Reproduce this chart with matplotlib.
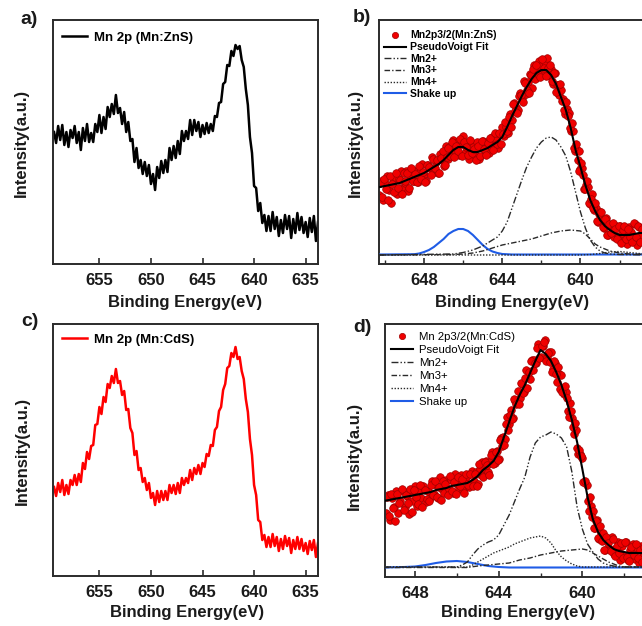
import numpy as np
import matplotlib
matplotlib.use("Agg")
import matplotlib.pyplot as plt
from matplotlib.ticker import MultipleLocator
from matplotlib.lines import Line2D

plt.rcParams['font.family'] = ['Liberation Sans', 'DejaVu Sans']

# ---------------- Panel a: Mn 2p survey (Mn:ZnS) ----------------
a_energy = np.linspace(659.4, 633.8, 129)
a_intensity = [132,121,138,124,139,119,132,117,134,126,138,121,132,114,136,123,140,122,131,122,
               140,132,149,131,147,135,157,147,160,150,169,151,156,140,152,132,142,123,125,102,
               116,96,104,90,102,88,99,80,90,74,97,86,103,91,104,92,116,104,118,106,
               123,110,133,123,133,125,144,129,144,133,142,127,139,130,141,131,140,133,148,147,
               161,162,180,182,199,198,213,208,219,215,218,204,197,175,159,127,111,78,76,53,
               61,41,49,33,48,33,52,35,47,28,44,31,49,35,48,26,45,31,51,34,
               47,31,42,27,46,32,48,23,42]

# ---------------- Panel c: Mn 2p survey (Mn:CdS) ----------------
c_energy = np.linspace(659.4, 633.8, 129)
c_intensity = [89,80,93,84,96,81,91,82,96,91,101,91,102,94,113,107,124,117,130,131,
               151,152,169,162,179,174,192,188,200,193,207,193,195,181,185,166,167,148,143,121,
               125,106,108,94,98,86,93,78,83,71,85,74,85,76,85,76,91,83,91,82,
               93,83,98,91,98,93,106,96,108,102,111,102,113,109,122,120,131,130,146,149,
               165,169,186,192,208,210,223,219,229,217,219,205,197,177,164,137,121,91,81,56,
               54,36,41,29,39,29,42,30,39,25,37,27,40,30,38,23,36,27,39,27,
               37,25,33,22,35,26,36,19,33]

# ---------------- Panel b: Mn 2p3/2 fit (Mn:ZnS) ----------------
b_energy = np.linspace(650.3, 636.9, 135)
b_intensity = [69,83,64,81,88,74,61,82,87,70,85,93,76,81,93,73,86,94,83,93,
               82,92,100,89,83,99,96,107,92,102,91,110,104,98,118,105,117,111,124,111,
               122,109,120,128,111,117,105,121,117,109,122,105,117,123,113,122,111,119,127,116,
               124,116,130,137,128,137,131,150,144,161,157,154,171,166,183,170,182,190,176,199,
               192,187,203,198,191,202,206,189,195,180,191,179,169,174,165,150,155,151,133,133,
               113,114,113,95,96,75,79,77,60,70,54,56,42,52,44,36,46,29,38,39,
               27,38,27,38,31,23,34,20,37,32,25,40,19,37,29]
b_energy_2 = np.linspace(650.25, 636.85, 135)
b_intensity_2 = [81,67,85,75,64,88,80,72,91,76,84,70,91,83,91,76,96,83,90,82,
                 98,85,92,82,99,97,89,105,96,104,91,106,113,99,107,116,108,122,107,118,
                 113,125,108,122,117,109,124,111,115,104,118,108,123,115,109,121,126,116,114,131,
                 120,131,120,130,142,133,147,137,160,153,151,168,169,162,181,174,171,189,195,185,
                 199,190,187,205,196,188,196,199,183,191,172,179,180,163,154,162,148,136,141,116,
                 120,104,93,101,89,75,83,61,65,56,61,43,50,52,37,45,29,40,31,41,
                 35,25,38,21,34,38,25,35,27,22,41,27,38,22,35]
b_fit_energy = np.linspace(650.25, 636.75, 55)
b_fit = [77,78,79,80,81,83,85,87,89,91,94,97,100,104,109,114,117,117,114,112,
         112,114,116,119,122,127,137,148,158,168,177,185,191,194,194,189,180,167,154,136,
         114,97,79,64,53,44,38,34,31,29,29,29,30,31,31]
b_mn2_energy = [650.3,646.5,646.0,645.5,645.25,645.0,644.75,644.5,644.25,644.0,643.75,643.5,643.25,
                643.0,642.75,642.5,642.25,642.0,641.75,641.5,641.25,641.0,640.75,640.5,640.25,
                640.0,639.75,639.5,639.25,639.0,638.75,638.5,638.0,636.5]
b_mn2 = [9,10,11.5,14,16,18,21,24,27,33,42,56,70,84,97,107,116,122,126,127,124,117,108,92,72,
         52,36,24,17,13,11,10,9.5,9]
b_mn3_energy = [650.3,646.5,646.0,645.5,645.0,644.5,644.0,643.5,643.0,642.5,642.0,641.5,641.0,
                640.5,640.0,639.75,639.5,639.25,639.0,638.75,638.5,638.0,637.5,636.5]
b_mn3 = [9,9.5,10,11,13,16,19,21,23,25,28,31,33,34,33,30,25,20,17,15,13,11,10,9.5]
b_mn4_energy = [650.3,640.0,639.5,639.0,638.5,638.0,637.5,637.0,636.5]
b_mn4 = [9,9,9.5,10.5,12,12.5,11.5,10.5,10]
b_shake_energy = [650.3,648.5,648.25,648.0,647.75,647.5,647.25,647.0,646.75,646.5,646.25,646.0,
                  645.75,645.5,645.25,645.0,644.75,644.5,644.25,644.0,643.5,636.5]
b_shake = [9.5,9.8,10.5,12,14,17,21,25,30,33,35,35,33,29,24,19,15,12.5,11,10,9.5,9.5]

# ---------------- Panel d: Mn 2p3/2 fit (Mn:CdS) ----------------
d_energy = np.linspace(649.4, 637.1, 124)
d_intensity = [64,82,57,79,70,86,64,76,86,70,81,63,85,76,91,71,86,79,91,75,
               86,79,96,83,92,79,100,88,84,97,88,97,84,103,93,88,102,87,97,101,
               90,106,96,105,93,108,115,105,116,105,115,125,114,126,118,139,140,138,160,153,
               167,159,176,186,179,193,185,207,200,198,217,217,214,233,220,231,237,220,225,225,
               208,214,195,203,202,183,185,166,174,159,143,147,123,123,119,95,92,66,71,66,
               49,57,38,44,44,27,38,28,40,23,29,35,17,31,21,35,17,27,33,18,
               29,14,31,21]
d_energy_2 = np.linspace(649.35, 637.05, 124)
d_intensity_2 = [80,61,83,69,56,83,74,88,67,82,74,88,65,87,80,73,92,70,87,78,
                 76,92,82,96,80,90,77,96,93,82,101,86,95,83,100,91,98,84,103,92,
                 103,91,103,91,113,102,100,115,112,102,122,113,125,117,137,131,132,153,147,162,
                 158,178,173,173,194,184,199,189,205,216,207,214,229,219,231,235,216,224,215,205,
                 216,203,210,188,185,191,179,160,166,150,154,129,127,121,95,96,76,80,60,49,
                 56,39,51,36,27,40,34,26,38,21,31,24,34,19,35,20,16,30,22,33,
                 19,27,15,30]
d_fit_energy = np.linspace(649.5, 637.0, 51)
d_fit = [76,77,78,79,80,81,82,83,84,85,87,88,89,91,92,93,94,97,101,107,
         111,116,125,140,155,170,182,192,204,216,227,223,216,205,192,176,157,135,108,80,
         58,45,37,32,28,26,25,24,24,24,24]
d_mn2_energy = [649.5,646.0,645.75,645.5,645.25,645.0,644.75,644.5,644.25,644.0,643.75,643.5,643.25,
                643.0,642.75,642.5,642.25,642.0,641.75,641.5,641.25,641.0,640.75,640.5,640.25,
                640.0,639.75,639.5,639.25,639.0,638.75,638.5,638.25,636.5]
d_mn2 = [10,10,12,15,22,28,32,35,37,42,52,62,75,88,100,120,134,140,142,145,143,139,130,105,70,
         48,33,25,18,14,12,11,10,10]
d_mn3_energy = [649.5,645.5,645.0,644.5,644.0,643.5,643.0,642.5,642.0,641.5,641.0,640.5,640.0,
                639.75,639.5,639.25,639.0,638.75,638.5,638.25,638.0,636.5]
d_mn3 = [9.5,9.5,11,12,13,14,17,19,22,24,26,27,28,27,24,21,18,15,13,11,10,10]
d_mn4_energy = [649.5,645.5,645.25,645.0,644.75,644.5,644.25,644.0,643.75,643.5,643.25,643.0,
                642.75,642.5,642.25,642.0,641.75,641.5,641.25,641.0,640.75,640.5,640.25,640.0,636.5]
d_mn4 = [10,10,12,15,18,21,24,26,28,30,33,35,37,39,40,41,39,34,26,20,16,13,11,10,10]
d_shake_energy = [649.5,648.5,648.0,647.5,647.0,646.5,646.0,645.5,645.0,644.5,644.0,643.5,636.5]
d_shake = [9.5,10,10.5,12,14,15.5,16,15,13,11,10,9.5,9.5]

# ---------------- Figure ----------------
W, H = 642, 626
fig = plt.figure(figsize=(W / 100, H / 100), dpi=100)

def px_axes(left, top, width, height):
    return fig.add_axes([left / W, 1 - (top + height) / H, width / W, height / H])

SPINE = '#2b2b2b'
TXT = '#1a1a1a'

def style(ax, major, minor=None):
    for s in ax.spines.values():
        s.set_color(SPINE)
        s.set_linewidth(1.4)
    ax.xaxis.set_major_locator(MultipleLocator(major))
    if minor:
        ax.xaxis.set_minor_locator(MultipleLocator(minor))
    ax.tick_params(axis='x', which='major', direction='in', length=4, width=1.2,
                   color=SPINE, pad=6.5, labelsize=12, labelcolor=TXT)
    ax.tick_params(axis='x', which='minor', direction='in', length=3, width=1.0, color=SPINE)
    ax.tick_params(axis='y', left=False, labelleft=False)
    for lab in ax.get_xticklabels():
        lab.set_fontweight('bold')

ax_a = px_axes(53, 20, 265, 244)
ax_b = px_axes(378.5, 20, 270.4, 244)
ax_c = px_axes(53, 324, 265, 252)
ax_d = px_axes(385, 324, 270.5, 253)

# Panel a
ax_a.plot(a_energy, a_intensity, color='black', lw=1.8, label='Mn 2p (Mn:ZnS)')
ax_a.set_xlim(659.5, 633.8)
ax_a.set_ylim(0, 244)
style(ax_a, 5)
ax_a.legend(loc='upper left', bbox_to_anchor=(0.035, 0.952), frameon=False,
            prop={'weight': 'bold', 'size': 9.5}, handlelength=1.9, handletextpad=0.5,
            borderpad=0, borderaxespad=0)

# Panel c
ax_c.plot(c_energy, c_intensity, color='#ff0000', lw=1.8, label='Mn 2p (Mn:CdS)')
ax_c.set_xlim(659.5, 633.8)
ax_c.set_ylim(0, 252)
style(ax_c, 5)
ax_c.legend(loc='upper left', bbox_to_anchor=(0.035, 0.962), frameon=False,
            prop={'weight': 'bold', 'size': 9.5}, handlelength=1.9, handletextpad=0.5,
            borderpad=0, borderaxespad=0)

LS_MN2 = (0, (5, 1.5, 1, 1.5, 1, 1.5))
LS_MN3 = (0, (4, 1.5, 1, 1.5))
LS_MN4 = (0, (1, 1.2))
BLUE = '#1f5ce6'
RED_FILL = '#f00000'
RED_EDGE = '#a00000'

def fit_panel(ax, sets, fe, fy, comps, se, sy, label):
    for (e, y) in sets:
        ax.scatter(e, y, s=30, c=RED_FILL, edgecolors=RED_EDGE, linewidths=0.5, zorder=2)
    ax.plot(se, sy, color=BLUE, lw=1.5, zorder=3)
    for (ce, cy, ls) in comps:
        ax.plot(ce, cy, color='#2a2a2a', lw=1.0, ls=ls, zorder=4)
    ax.plot(fe, fy, color='black', lw=1.5, zorder=5)
    handles = [Line2D([], [], ls='none', marker='o', ms=4.5, mfc=RED_FILL, mec=RED_EDGE, mew=0.5),
               Line2D([], [], color='black', lw=1.5),
               Line2D([], [], color='#2a2a2a', lw=1.0, ls=LS_MN2),
               Line2D([], [], color='#2a2a2a', lw=1.0, ls=LS_MN3),
               Line2D([], [], color='#2a2a2a', lw=1.0, ls=LS_MN4),
               Line2D([], [], color=BLUE, lw=1.5)]
    labels = [label, 'PseudoVoigt Fit', 'Mn2+', 'Mn3+', 'Mn4+', 'Shake up']
    return handles, labels

h, l = fit_panel(ax_b, [(b_energy, b_intensity), (b_energy_2, b_intensity_2)],
                 b_fit_energy, b_fit,
                 [(b_mn2_energy, b_mn2, LS_MN2), (b_mn3_energy, b_mn3, LS_MN3),
                  (b_mn4_energy, b_mn4, LS_MN4)],
                 b_shake_energy, b_shake, 'Mn2p3/2(Mn:ZnS)')
ax_b.set_xlim(650.33, 636.5)
ax_b.set_ylim(0, 244)
style(ax_b, 4, 2)
ax_b.legend(h, l, loc='upper left', bbox_to_anchor=(0.022, 0.957), frameon=False,
            prop={'weight': 'bold', 'size': 7.5}, handlelength=2.1, handletextpad=0.35,
            labelspacing=0.16, borderpad=0, borderaxespad=0)

h, l = fit_panel(ax_d, [(d_energy, d_intensity), (d_energy_2, d_intensity_2)],
                 d_fit_energy, d_fit,
                 [(d_mn2_energy, d_mn2, LS_MN2), (d_mn3_energy, d_mn3, LS_MN3),
                  (d_mn4_energy, d_mn4, LS_MN4)],
                 d_shake_energy, d_shake, 'Mn 2p3/2(Mn:CdS)')
ax_d.set_xlim(649.44, 636.5)
ax_d.set_ylim(0, 253)
style(ax_d, 4, 2)
ax_d.legend(h, l, loc='upper left', bbox_to_anchor=(0.024, 0.969), frameon=False,
            prop={'weight': 'normal', 'size': 8.2}, handlelength=1.9, handletextpad=0.5,
            labelspacing=0.27, borderpad=0, borderaxespad=0)

def ftext(x, y, s, **kw):
    fig.text(x / W, 1 - y / H, s, ha='center', va='center', color=TXT, **kw)

# axis labels
ftext(185, 303, 'Binding Energy(eV)', fontsize=12, fontweight='bold')
ftext(512, 303, 'Binding Energy(eV)', fontsize=12, fontweight='bold')
ftext(187, 613, 'Binding Energy(eV)', fontsize=12, fontweight='bold')
ftext(518, 612, 'Binding Energy(eV)', fontsize=12, fontweight='bold')
ftext(21, 143, 'Intensity(a.u.)', fontsize=12, fontweight='bold', rotation=90)
ftext(355, 143, 'Intensity(a.u.)', fontsize=12, fontweight='bold', rotation=90)
ftext(22, 451, 'Intensity(a.u.)', fontsize=12, fontweight='bold', rotation=90)
ftext(354, 456, 'Intensity(a.u.)', fontsize=12, fontweight='bold', rotation=90)

# panel letters
ftext(29, 20, 'a)', fontsize=14, fontweight='bold')
ftext(362, 17, 'b)', fontsize=14, fontweight='bold')
ftext(30, 322, 'c)', fontsize=14, fontweight='bold')
ftext(362, 327, 'd)', fontsize=14, fontweight='bold')

fig.savefig('out.png', dpi=100)
